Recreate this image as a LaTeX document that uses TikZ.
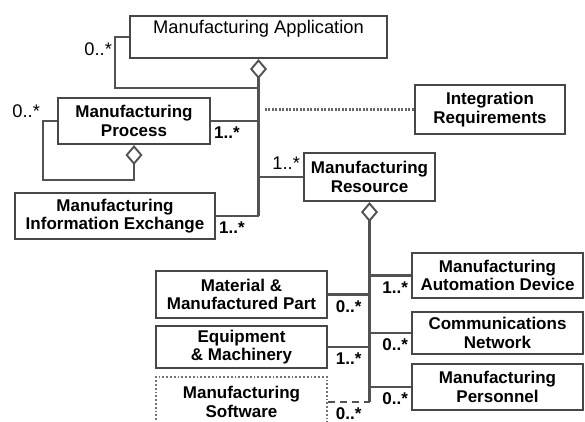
\documentclass[tikz,border=0pt]{standalone}
\usepackage{fontspec}
\setmainfont{Liberation Sans}
\usetikzlibrary{arrows.meta}

\begin{document}
\begin{tikzpicture}[x=1pt,y=-1pt,
  font=\fontsize{18.3}{19.5}\selectfont,
  box/.style={draw=black!72,line width=2.1pt,fill=white,align=center,inner sep=0pt,
    font=\fontsize{17}{18.5}\selectfont\bfseries},
  conn/.style={draw=black!68,line width=2.1pt},
  agg/.style={conn,{Diamond[open,length=20pt,width=17pt,line width=1.9pt]}-},
  mult/.style={inner sep=2pt},
  bmult/.style={mult,yshift=-3pt,font=\fontsize{17}{18.5}\selectfont\bfseries}]

\useasboundingbox (0,0) rectangle (585,422);

% --- Manufacturing Application ---
\node[box,font=\fontsize{18.3}{19.5}\selectfont,minimum width=257pt,minimum height=42pt,
  label={[anchor=north,inner sep=0pt,yshift=-5pt]north:Manufacturing Application}] (app) at (258.5,37) {};

% --- parts of the application ---
\node[box,minimum width=152pt,minimum height=46pt] (proc) at (134,121) {Manufacturing\\Process};
\node[box,minimum width=150pt,minimum height=49pt] (intreq) at (490,109.5) {Integration\\Requirements};
\node[box,minimum width=131pt,minimum height=48pt] (res) at (369.5,177) {Manufacturing\\Resource};
\node[box,minimum width=200pt,minimum height=46pt] (mie) at (115,216) {Manufacturing\\Information Exchange};

% --- parts of the resource, left side ---
\node[box,minimum width=171pt,minimum height=47pt] (mat) at (241.5,294.5) {Material \&\\Manufactured Part};
\node[box,minimum width=171pt,minimum height=42pt] (equip) at (241.5,347) {Equipment\\\& Machinery};
\node[box,draw=black!55,line width=1.8pt,dash pattern=on 1.8pt off 2pt,minimum width=171pt,minimum height=50pt] (soft) at (241.5,402) {Manufacturing\\Software};

% --- parts of the resource, right side ---
\node[box,minimum width=171pt,minimum height=45pt] (mad) at (497.5,275.5) {Manufacturing\\Automation Device};
\node[box,minimum width=171pt,minimum height=42pt] (net) at (497.5,333) {Communications\\Network};
\node[box,minimum width=171pt,minimum height=46pt] (pers) at (497.5,387) {Manufacturing\\Personnel};

% aggregation below the application
\draw[agg] (app.south) -- (app.south |- mie.east);
\coordinate (appLoop) at (115,88);
\draw[conn] (app.west) -| node[mult,below left,yshift=-3pt]{0..*} (appLoop) -- (appLoop -| app.south);

\draw[conn] (proc.east) node[bmult,below right]{1..*} -- (proc.east -| app.south);
\draw[conn] (mie.east) node[bmult,below right]{1..*} -- (mie.east -| app.south);
\draw[conn] (res.west) node[mult,above left,yshift=4pt]{1..*} -- (res.west -| app.south);

% process made of processes
\coordinate (procLoop) at (43,180);
\draw[agg] (proc.south) |- (procLoop) |- node[mult,above left]{0..*} (proc.west);

% integration requirements (dotted)
\draw[conn,draw=black!60,dash pattern=on 2pt off 1.5pt,shorten >=6pt] (intreq.west) -- (intreq.west -| app.south);

% aggregation below the resource
\draw[agg] (res.south) -- (res.south |- soft.east);
\draw[conn] (mat.east) -- (mat.east -| res.south) node[bmult,below left,xshift=-5pt]{0..*};
\draw[conn] (equip.east) -- (equip.east -| res.south) node[bmult,below left,xshift=-5pt]{1..*};
\draw[conn,dash pattern=on 7pt off 5pt] (soft.east) -- (soft.east -| res.south) node[bmult,below left,xshift=-5pt]{0..*};

\draw[conn] (mad.west -| res.south) -- (mad.west) node[bmult,below left]{1..*};
\draw[conn] (net.west -| res.south) -- (net.west) node[bmult,below left]{0..*};
\draw[conn] (pers.west -| res.south) -- (pers.west) node[bmult,below left]{0..*};

\end{tikzpicture}
\end{document}
